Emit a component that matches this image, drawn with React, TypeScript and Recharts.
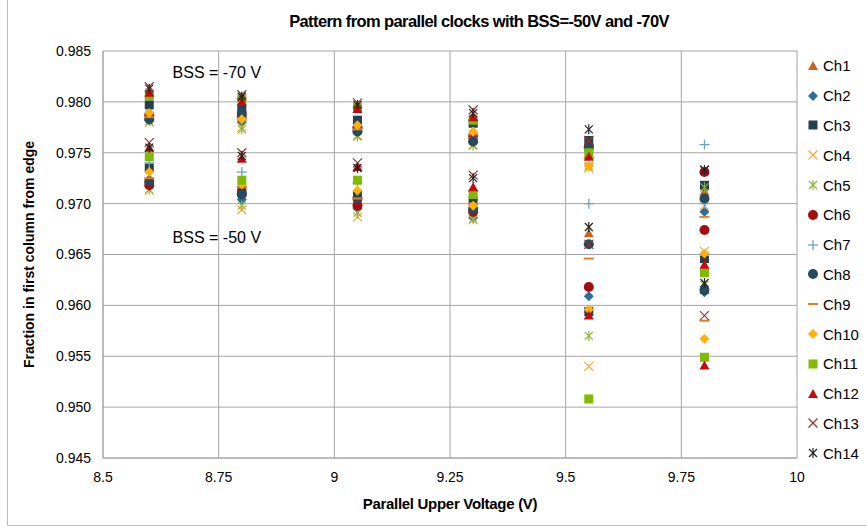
import { ScatterChart, Scatter, XAxis, YAxis, CartesianGrid, ReferenceDot, Label } from 'recharts'

const voltages = [8.6, 8.8, 9.05, 9.3, 9.55, 9.8]
const channels = ['Ch1', 'Ch2', 'Ch3', 'Ch4', 'Ch5', 'Ch6', 'Ch7', 'Ch8', 'Ch9', 'Ch10', 'Ch11', 'Ch12', 'Ch13', 'Ch14']
const xTicks = [8.5, 8.75, 9, 9.25, 9.5, 9.75, 10]
const yTicks = [0.945, 0.95, 0.955, 0.96, 0.965, 0.97, 0.975, 0.98, 0.985]

// BSS = -70 V (upper group), one row per channel, values at each voltage
const bss70 = [
  [0.9790, 0.9785, 0.9778, 0.9768, 0.9748, 0.9712],
  [0.9782, 0.9780, 0.9770, 0.9760, 0.9752, 0.9692],
  [0.9797, 0.9794, 0.9782, 0.9779, 0.9762, 0.9718],
  [0.9780, 0.9775, 0.9767, 0.9758, 0.9735, 0.9698],
  [0.9781, 0.9773, 0.9766, 0.9757, 0.9737, 0.9716],
  [0.9787, 0.9786, 0.9775, 0.9766, 0.9756, 0.9731],
  [0.9786, 0.9784, 0.9774, 0.9765, 0.9755, 0.9758],
  [0.9783, 0.9789, 0.9771, 0.9761, 0.9755, 0.9705],
  [0.9785, 0.9783, 0.9773, 0.9768, 0.9745, 0.9687],
  [0.9789, 0.9783, 0.9777, 0.9771, 0.9737, 0.9651],
  [0.9806, 0.9803, 0.9795, 0.9782, 0.9750, 0.9632],
  [0.9809, 0.9800, 0.9793, 0.9785, 0.9746, 0.9640],
  [0.9815, 0.9807, 0.9799, 0.9792, 0.9762, 0.9733],
  [0.9813, 0.9805, 0.9797, 0.9789, 0.9773, 0.9733],
]

// BSS = -50 V (lower group)
const bss50 = [
  [0.9725, 0.9716, 0.9705, 0.9697, 0.9671, 0.9615],
  [0.9720, 0.9704, 0.9695, 0.9686, 0.9609, 0.9613],
  [0.9735, 0.9713, 0.9709, 0.9703, 0.9594, 0.9646],
  [0.9713, 0.9694, 0.9687, 0.9684, 0.9540, 0.9653],
  [0.9714, 0.9698, 0.9691, 0.9685, 0.9570, 0.9620],
  [0.9718, 0.9710, 0.9698, 0.9692, 0.9618, 0.9674],
  [0.9740, 0.9731, 0.9720, 0.9712, 0.9700, 0.9700],
  [0.9722, 0.9709, 0.9705, 0.9695, 0.9660, 0.9615],
  [0.9725, 0.9716, 0.9705, 0.9700, 0.9646, 0.9585],
  [0.9731, 0.9719, 0.9713, 0.9698, 0.9596, 0.9567],
  [0.9746, 0.9723, 0.9723, 0.9709, 0.9508, 0.9549],
  [0.9755, 0.9744, 0.9736, 0.9716, 0.9590, 0.9541],
  [0.9760, 0.9750, 0.9740, 0.9728, 0.9660, 0.9590],
  [0.9755, 0.9747, 0.9735, 0.9725, 0.9677, 0.9622],
]

const markers = ['triangle', 'diamond', 'square', 'x', 'asterisk', 'circle', 'plus', 'circle', 'dash', 'diamond', 'square', 'triangle', 'x', 'asterisk']
const colors = ['#c4661f', '#2c6d99', '#243f50', '#f3a935', '#8cb43c', '#a50d12', '#68a2c9', '#264b5e', '#ea7a24', '#ffb10a', '#7fbb05', '#c40a0a', '#8e3434', '#222222']

const FONT = '"Liberation Sans", Arial, sans-serif'

function Marker({ cx, cy, kind, color }: { cx: number; cy: number; kind: string; color: string }) {
  if (cx == null || cy == null) return null
  const s = 5
  switch (kind) {
    case 'triangle':
      return <polygon points={`${cx},${cy - s} ${cx + s},${cy + s - 1} ${cx - s},${cy + s - 1}`} fill={color} />
    case 'diamond':
      return <polygon points={`${cx},${cy - s} ${cx + s},${cy} ${cx},${cy + s} ${cx - s},${cy}`} fill={color} />
    case 'square':
      return <rect x={cx - 4.5} y={cy - 4.5} width={9} height={9} fill={color} />
    case 'circle':
      return <circle cx={cx} cy={cy} r={5} fill={color} />
    case 'x':
      return (
        <g stroke={color} strokeWidth={1.2}>
          <line x1={cx - 4.5} y1={cy - 4.5} x2={cx + 4.5} y2={cy + 4.5} />
          <line x1={cx - 4.5} y1={cy + 4.5} x2={cx + 4.5} y2={cy - 4.5} />
        </g>
      )
    case 'asterisk':
      return (
        <g stroke={color} strokeWidth={1.2}>
          <line x1={cx - 4} y1={cy - 4} x2={cx + 4} y2={cy + 4} />
          <line x1={cx - 4} y1={cy + 4} x2={cx + 4} y2={cy - 4} />
          <line x1={cx} y1={cy - 5} x2={cx} y2={cy + 5} />
        </g>
      )
    case 'plus':
      return (
        <g stroke={color} strokeWidth={1.3}>
          <line x1={cx - 5} y1={cy} x2={cx + 5} y2={cy} />
          <line x1={cx} y1={cy - 5} x2={cx} y2={cy + 5} />
        </g>
      )
    case 'dash':
      return <line x1={cx - 5} y1={cy} x2={cx + 5} y2={cy} stroke={color} strokeWidth={2} />
    default:
      return null
  }
}

export default function App() {
  const series = channels.map((name, c) => ({
    name,
    data: [
      ...voltages.map((v, i) => ({ v, f: bss70[c][i] })),
      ...voltages.map((v, i) => ({ v, f: bss50[c][i] })),
    ],
  }))

  return (
    <div style={{ position: 'absolute', left: 0, top: 0, width: 867, height: 529, background: '#fff', fontFamily: FONT }}>
      <div style={{ position: 'absolute', left: 7, top: 0, width: 870, height: 525, borderLeft: '1px solid #bdbdbd', borderBottom: '1px solid #bdbdbd' }} />
      <div style={{ position: 'absolute', left: 0, top: 12, width: 958, textAlign: 'center', fontSize: 16.5, letterSpacing: -0.6, fontWeight: 'bold', color: '#000' }}>
        Pattern from parallel clocks with BSS=-50V and -70V
      </div>

      <div style={{ position: 'absolute', left: 0, top: 0 }}>
        <ScatterChart width={867} height={529} margin={{ top: 51, right: 70, bottom: 21, left: 0 }}>
          <CartesianGrid stroke="#a4a4a4" strokeWidth={1} />
          <XAxis
            type="number"
            dataKey="v"
            domain={[8.5, 10]}
            ticks={xTicks}
            tickLine={false}
            axisLine={{ stroke: '#a4a4a4' }}
            tick={{ fontSize: 14, fill: '#000', fontFamily: FONT }}
            tickMargin={8}
            height={50}
          >
            <Label value="Parallel Upper Voltage (V)" position="insideBottom" offset={-1} style={{ fontSize: 15, letterSpacing: -0.3, fontWeight: 'bold', fill: '#000', fontFamily: FONT }} />
          </XAxis>
          <YAxis
            type="number"
            dataKey="f"
            domain={[0.945, 0.985]}
            ticks={yTicks}
            tickFormatter={(t: number) => t.toFixed(3)}
            tickLine={false}
            axisLine={{ stroke: '#a4a4a4' }}
            tick={{ fontSize: 14, fill: '#000', fontFamily: FONT }}
            tickMargin={6}
            width={103}
          >
            <Label value="Fraction in first column from edge" angle={-90} position="insideLeft" offset={29} style={{ textAnchor: 'middle', fontSize: 14, fontWeight: 'bold', fill: '#000', fontFamily: FONT }} />
          </YAxis>

          <ReferenceDot x={8.746} y={0.98294} r={0} fill="none" stroke="none">
            <Label value="BSS = -70 V" position="center" style={{ fontSize: 16, fill: '#000', fontFamily: FONT }} />
          </ReferenceDot>
          <ReferenceDot x={8.746} y={0.96664} r={0} fill="none" stroke="none">
            <Label value="BSS = -50 V" position="center" style={{ fontSize: 16, fill: '#000', fontFamily: FONT }} />
          </ReferenceDot>

          {series.map((s, c) => (
            <Scatter
              key={s.name}
              name={s.name}
              data={s.data}
              isAnimationActive={false}
              shape={(p: any) => <Marker cx={p.cx} cy={p.cy} kind={markers[c]} color={colors[c]} />}
            />
          ))}
        </ScatterChart>
      </div>

      {/* legend */}
      <div style={{ position: 'absolute', left: 806, top: 51 }}>
        {channels.map((name, c) => (
          <div key={name} style={{ height: 29.8, display: 'flex', alignItems: 'center', fontSize: 15, color: '#000' }}>
            <svg width={14} height={14} style={{ marginRight: 3 }}>
              <Marker cx={7} cy={7} kind={markers[c]} color={colors[c]} />
            </svg>
            {name}
          </div>
        ))}
      </div>
    </div>
  )
}
